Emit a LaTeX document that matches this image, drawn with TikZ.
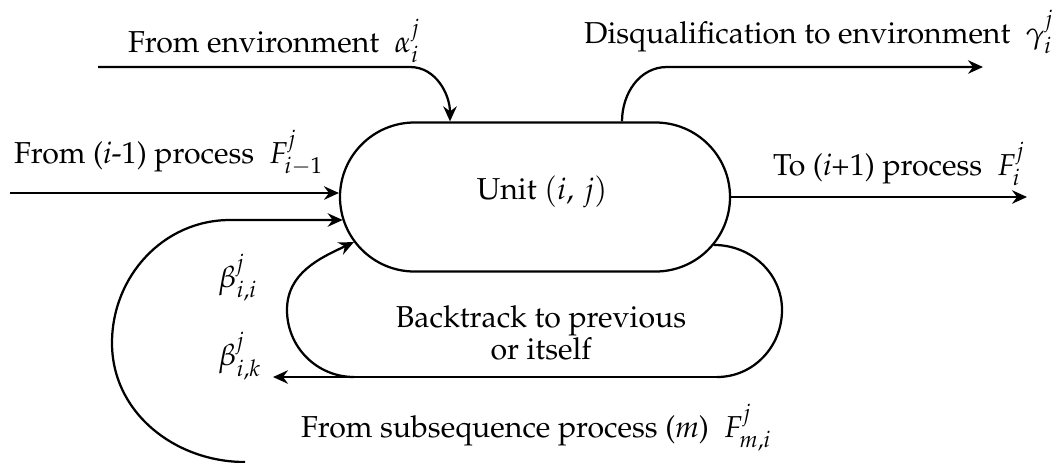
\documentclass[tikz,border=0pt]{standalone}
\usepackage[T1]{fontenc}
\usepackage{mathpazo}
\usepackage{tikz}
\usetikzlibrary{arrows.meta,shapes.misc,calc,positioning}

\begin{document}
\begin{tikzpicture}
	[x=0.4pt,y=-0.4pt,line width=0.9pt,
	every node/.style={font=\fontsize{12.1}{12.6}\selectfont},
	unitbox/.style={rounded rectangle,draw,inner sep=0pt,minimum width=156pt,minimum height=59.6pt},
	flow/.style={-{Stealth[length=6pt,width=5.4pt,inset=2pt]}},
	txt/.style={inner sep=0pt,anchor=base west}]
	\useasboundingbox (0,0) rectangle (1063,462);
	\node (unit) at (535,197) [unitbox] {};
	\node (unittxt) at (542,192) {Unit $(i,\,j)$};
	\coordinate (envstart) at (98,67);
	\coordinate (envbend) at (410,67);
	\coordinate (dqbend) at (667,67);
	\coordinate (dqend) at (983,67);
	\coordinate (prevstart) at (10,193);
	\coordinate (nextend) at (1027,197);
	\coordinate (loopstart) at (245,462);
	\coordinate (loopleft) at (112,343);
	\coordinate (looptop) at (230,220);
	\coordinate (btright) at (782,310);
	\coordinate (btcorner) at (717,377);
	\coordinate (btend) at (273,377);
	\coordinate (btleftstart) at (354,377);
	\coordinate (btleft) at (287,310);
	\node (envtxt) at (127,52) [txt] {From environment\ \ $\alpha_i^j$};
	\node (dqtxt) at (583,43) [txt] {Disqualification to environment\ \ $\gamma_i^j$};
	\node (prevtxt) at (13,163) [txt] {From (\textit{i}-1) process\ \ $F_{i-1}^j$};
	\node (nexttxt) at (772,175) [txt] {To (\textit{i}+1) process\ \ $F_i^j$};
	\node (bttxt) at (541,333) [align=center] {Backtrack to previous\\or itself};
	\node (betaii) at (217,287) [txt] {$\beta_{i,i}^j$};
	\node (betaik) at (217,365) [txt] {$\beta_{i,k}^j$};
	\node (subtxt) at (300,437) [txt] {From subsequence process (\textit{m})\ \ $F_{m,i}^j$};
	\draw [flow] (envstart) -- (envbend) to[out=0,in=90] ($(unit.north)+(-85,0)$);
	\draw [flow] ($(unit.north)+(87,0)$) to[out=90,in=180] (dqbend) -- (dqend);
	\draw [flow] (prevstart) -- (prevstart -| unit.179);
	\draw [flow] (unit.east) -- (nextend);
	\draw [flow] (loopstart) to[out=180,in=-90] (loopleft) to[out=90,in=180] (looptop) -- (looptop -| unit.187);
	\draw (unit.-15) to[out=0,in=90] (btright) to[out=-90,in=0] (btcorner);
	\draw [flow] (btcorner) -- (btend);
	\draw [flow] (btleftstart) to[out=180,in=-90] (btleft) to[out=90,in=205] (unit.194);
\end{tikzpicture}
\end{document}
